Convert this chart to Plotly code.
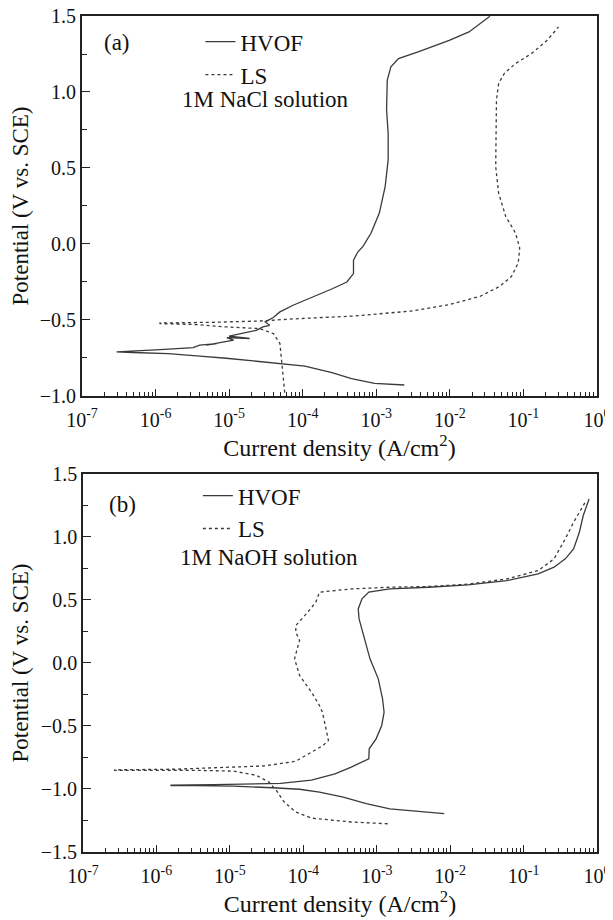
import plotly.graph_objects as go
from plotly.subplots import make_subplots

# ---------------- data ----------------
# (a) 1M NaCl
a_hvof_i = [2.4e-3, 9.5e-4, 4.6e-4, 2.5e-4, 1.07e-4, 4.0e-5, 2.6e-5, 9.1e-6, 4.0e-6, 1.48e-6, 4.9e-7, 2.95e-7,
            1.15e-6, 3.24e-6, 3.98e-6, 6.76e-6, 4.9e-6, 1.15e-5, 9.3e-6, 1.9e-5, 1.0e-5, 2.34e-5, 2.88e-5,
            3.55e-5, 3.09e-5, 3.98e-5, 4.9e-5, 7.4e-5, 1.38e-4, 2.57e-4, 3.98e-4, 4.9e-4, 4.9e-4, 5.6e-4,
            6.6e-4, 8.5e-4, 1.1e-3, 1.32e-3, 1.45e-3, 1.45e-3, 1.38e-3, 1.41e-3, 1.58e-3, 2.0e-3, 3.7e-3,
            9.8e-3, 1.82e-2, 3.5e-2]
a_hvof_e = [-0.928, -0.917, -0.886, -0.847, -0.803, -0.782, -0.776, -0.752, -0.738, -0.722, -0.714, -0.710,
            -0.695, -0.682, -0.666, -0.655, -0.666, -0.633, -0.616, -0.622, -0.607, -0.568, -0.546,
            -0.535, -0.513, -0.484, -0.447, -0.403, -0.349, -0.293, -0.250, -0.195, -0.107, -0.053,
            -0.016, 0.072, 0.203, 0.378, 0.553, 0.728, 0.881, 1.078, 1.165, 1.220, 1.264,
            1.340, 1.395, 1.498]

a_ls_i = [5.7e-5, 5.4e-5, 5.1e-5, 4.9e-5, 4.0e-5, 2.6e-5, 9.3e-6, 3.5e-6, 1.15e-6,
          1.15e-6, 6.5e-6, 2.6e-5, 7.4e-5, 4.6e-4, 2.9e-3, 9.8e-3, 2.6e-2, 4.8e-2, 6.9e-2,
          8.5e-2, 8.9e-2, 7.8e-2, 5.75e-2, 4.6e-2, 4.2e-2, 4.2e-2, 4.3e-2, 4.6e-2, 5.5e-2,
          7.8e-2, 1.29e-1, 2.1e-1, 3.0e-1]
a_ls_e = [-0.978, -0.870, -0.760, -0.655, -0.590, -0.557, -0.546, -0.530, -0.524,
          -0.520, -0.515, -0.507, -0.493, -0.475, -0.442, -0.399, -0.344, -0.278, -0.213,
          -0.125, -0.027, 0.072, 0.181, 0.334, 0.509, 0.728, 0.947, 1.056, 1.122,
          1.187, 1.253, 1.340, 1.428]

# (b) 1M NaOH
b_hvof_i = [8.3e-3, 4.0e-3, 1.51e-3, 7.2e-4, 3.5e-4, 1.66e-4, 8.9e-5, 3.8e-5, 1.12e-5, 3.3e-6, 1.58e-6,
            1.58e-6, 6.0e-6, 2.1e-5, 4.9e-5, 1.29e-4, 2.7e-4, 4.5e-4, 6.5e-4, 7.8e-4, 7.9e-4, 9.8e-4,
            1.17e-3, 1.26e-3, 1.2e-3, 1.05e-3, 8.1e-4, 6.8e-4, 5.75e-4, 5.6e-4, 6.3e-4, 7.8e-4, 1.51e-3,
            5.1e-3, 1.74e-2, 5.9e-2, 1.58e-1, 2.6e-1, 3.7e-1, 4.8e-1, 5.75e-1, 6.5e-1, 7.8e-1]
b_hvof_e = [-1.196, -1.178, -1.157, -1.117, -1.064, -1.024, -1.002, -0.990, -0.978, -0.974, -0.974,
            -0.970, -0.966, -0.960, -0.955, -0.930, -0.880, -0.826, -0.781, -0.760, -0.681, -0.602,
            -0.496, -0.390, -0.284, -0.126, 0.033, 0.191, 0.350, 0.429, 0.509, 0.562, 0.588,
            0.601, 0.620, 0.654, 0.707, 0.760, 0.826, 0.905, 1.037, 1.170, 1.302]

b_ls_i = [1.41e-3, 4.5e-4, 1.29e-4, 7.9e-5, 5.5e-5, 4.3e-5, 3.4e-5, 2.3e-5, 1.12e-5, 3.3e-6, 9.5e-7, 2.7e-7,
          2.7e-7, 1.78e-6, 6.9e-6, 2.95e-5, 7.9e-5, 1.29e-4, 1.86e-4, 2.2e-4, 2.0e-4, 1.82e-4, 1.66e-4,
          1.29e-4, 8.9e-5, 7.6e-5, 8.5e-5, 8.9e-5, 7.9e-5, 7.9e-5, 1.15e-4, 1.48e-4, 1.66e-4, 4.5e-4,
          1.51e-3, 5.1e-3, 1.74e-2, 5.9e-2, 1.58e-1, 2.6e-1, 3.7e-1, 4.8e-1, 6.9e-1]
b_ls_e = [-1.276, -1.262, -1.231, -1.183, -1.104, -1.011, -0.945, -0.892, -0.858, -0.852, -0.852, -0.852,
          -0.848, -0.843, -0.830, -0.817, -0.780, -0.710, -0.654, -0.615, -0.496, -0.390, -0.337,
          -0.231, -0.099, 0.033, 0.139, 0.180, 0.244, 0.297, 0.403, 0.482, 0.562, 0.588,
          0.601, 0.607, 0.625, 0.667, 0.733, 0.826, 0.985, 1.117, 1.275]

x_tickvals = [1e-7, 1e-6, 1e-5, 1e-4, 1e-3, 1e-2, 1e-1, 1e0]
x_ticktext = ["10<sup>-7</sup>", "10<sup>-6</sup>", "10<sup>-5</sup>", "10<sup>-4</sup>",
              "10<sup>-3</sup>", "10<sup>-2</sup>", "10<sup>-1</sup>", "10<sup>0</sup>"]
y_ticks_a = [-1.0, -0.5, 0.0, 0.5, 1.0, 1.5]
y_ticks_b = [-1.5, -1.0, -0.5, 0.0, 0.5, 1.0, 1.5]

FONT = "Liberation Serif, Times New Roman, DejaVu Serif, serif"
LINE = "#3a3a3a"
AX = "#222222"
TXT = "#111111"

fig = make_subplots(rows=2, cols=1, vertical_spacing=0.0)

fig.add_trace(go.Scatter(x=a_hvof_i, y=a_hvof_e, mode="lines", name="HVOF",
                         line=dict(color=LINE, width=1.3), legend="legend"), row=1, col=1)
fig.add_trace(go.Scatter(x=a_ls_i, y=a_ls_e, mode="lines", name="LS",
                         line=dict(color=LINE, width=1.3, dash="dot"), legend="legend"), row=1, col=1)
fig.add_trace(go.Scatter(x=b_hvof_i, y=b_hvof_e, mode="lines", name="HVOF",
                         line=dict(color=LINE, width=1.3), legend="legend2"), row=2, col=1)
fig.add_trace(go.Scatter(x=b_ls_i, y=b_ls_e, mode="lines", name="LS",
                         line=dict(color=LINE, width=1.3, dash="dot"), legend="legend2"), row=2, col=1)

minor_x = [k * v for v in x_tickvals[:-1] for k in range(2, 10)]

xcommon = dict(type="log", range=[-7, 0], tickvals=x_tickvals, ticktext=x_ticktext,
               ticks="inside", ticklen=7, tickwidth=1.2, tickcolor=AX,
               showline=True, linecolor=AX, linewidth=1.8, mirror=True,
               showgrid=False, zeroline=False, ticklabeloverflow="allow", ticklabelstandoff=5,
               minor=dict(tickvals=minor_x, ticks="inside", ticklen=4, tickwidth=1, tickcolor=AX, showgrid=False),
               tickfont=dict(family=FONT, size=20, color=TXT),
               title=dict(text="Current density (A/cm<sup>2</sup>)", font=dict(family=FONT, size=24, color=TXT),
                          standoff=5),
               automargin=False)
ycommon = dict(ticks="inside", ticklen=8, tickwidth=1.2, tickcolor=AX,
               showline=True, linecolor=AX, linewidth=1.8, mirror=True,
               showgrid=False, zeroline=False, tickformat=".1f", ticklabeloverflow="allow",
               minor=dict(dtick=0.25, ticks="inside", ticklen=5, tickwidth=1, tickcolor=AX, showgrid=False),
               tickfont=dict(family=FONT, size=20, color=TXT),
               title=dict(text="Potential (V vs. SCE)", font=dict(family=FONT, size=23, color=TXT),
                          standoff=7),
               automargin=False)

fig.update_xaxes(**xcommon)
fig.update_yaxes(**ycommon)
fig.update_xaxes(domain=[0, 1], row=1, col=1)
fig.update_xaxes(domain=[0.002, 1.0], row=2, col=1)
fig.update_yaxes(domain=[0.5455, 1.0], range=[-1.0, 1.5], tickvals=y_ticks_a, row=1, col=1)
fig.update_yaxes(domain=[0.0, 0.4522], range=[-1.5, 1.5], tickvals=y_ticks_b, row=2, col=1)

legend_style = dict(bgcolor="rgba(0,0,0,0)", borderwidth=0, xanchor="left", yanchor="top",
                    font=dict(family=FONT, size=23, color=TXT), tracegroupgap=0)
ann_font = dict(family=FONT, size=23, color=TXT)
fig.update_layout(
    width=605, height=912,
    margin=dict(l=74, r=16, t=8, b=68),
    paper_bgcolor="white", plot_bgcolor="white",
    showlegend=True,
    font=dict(family=FONT, color=TXT),
    legend=dict(x=0.23, y=0.995, **legend_style),
    legend2=dict(x=0.225, y=0.452, **legend_style),
    annotations=[
        dict(text="(a)", xref="x domain", yref="y domain", x=0.068, y=0.929,
             xanchor="center", yanchor="middle", showarrow=False, font=ann_font),
        dict(text="1M NaCl solution", xref="x domain", yref="y domain", x=0.19, y=0.78,
             xanchor="left", yanchor="middle", showarrow=False, font=ann_font),
        dict(text="(b)", xref="x2 domain", yref="y2 domain", x=0.076, y=0.918,
             xanchor="center", yanchor="middle", showarrow=False, font=ann_font),
        dict(text="1M NaOH solution", xref="x2 domain", yref="y2 domain", x=0.184, y=0.78,
             xanchor="left", yanchor="middle", showarrow=False, font=ann_font),
    ],
)

fig.write_html("out.html")
